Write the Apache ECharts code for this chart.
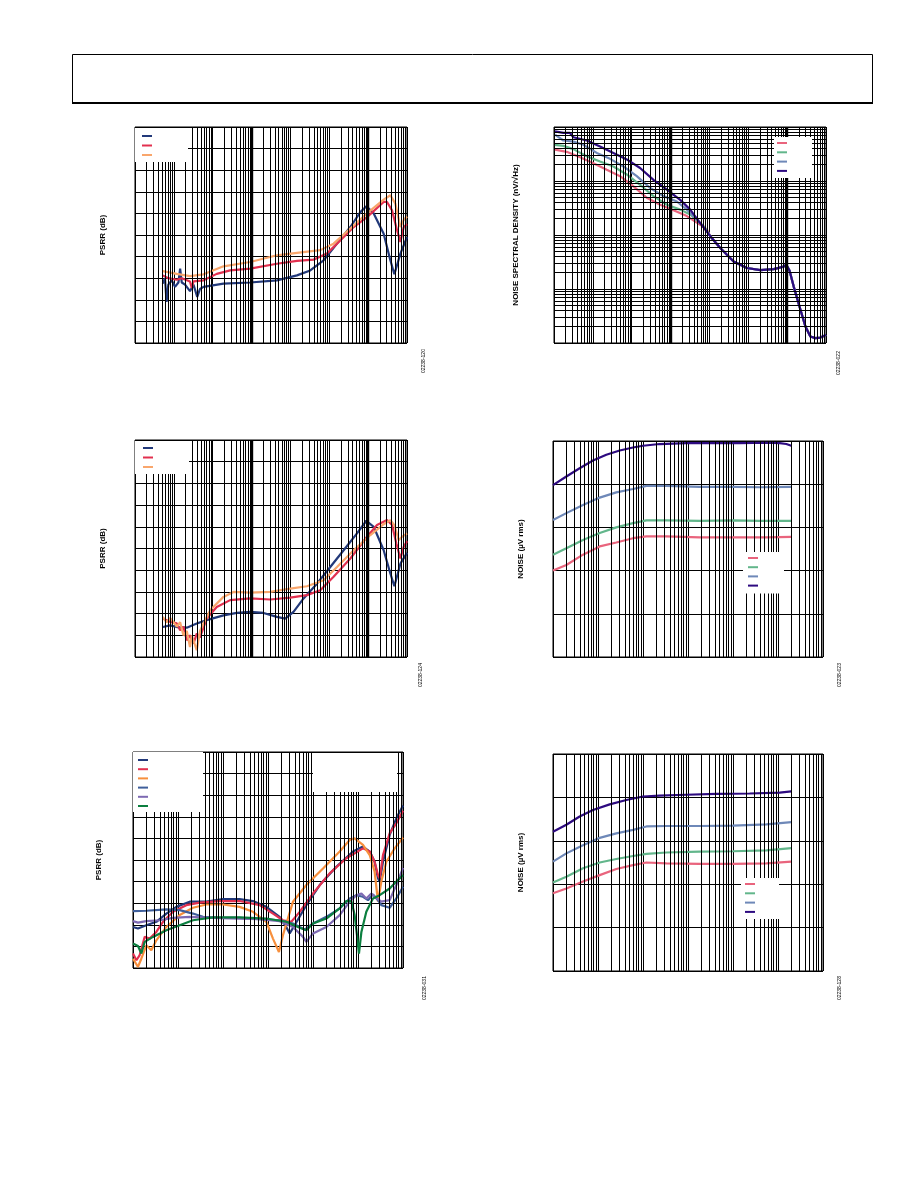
<!DOCTYPE html>
<html>
<head>
<meta charset="utf-8">
<script src="https://cdn.jsdelivr.net/npm/echarts@6/dist/echarts.min.js"></script>
<style>
  html, body { margin: 0; padding: 0; background: #fff; }
  #chart { width: 918px; height: 1188px; }
</style>
</head>
<body>
<div id="chart"></div>
<script>
// ---- PSRR, top left (Hz, dB) ----
const psrrA_navy = [[5.2,-72.5],[5.9,-70],[6.5,-81],[7.2,-73],[8.8,-71],[10.7,-74],[13.1,-72],[14.5,-65.6],[16,-72],[19.4,-73],[26,-76],[32,-73],[40,-78.7],[47,-75],[58,-74],[189,-72.5],[920,-72],[4480,-71],[14700,-68.7],[32400,-66.4],[71400,-61.7],[158000,-54],[348000,-46.3],[630000,-39.4],[899000,-36.7],[1.39e6,-40],[2.51e6,-49.4],[3.73e6,-61.7],[4.73e6,-68.2],[6.76e6,-58.6],[1e7,-51]]
const psrrA_red = [[5.2,-68.7],[7.2,-70],[11.9,-70.7],[16,-70],[26,-71.5],[29,-74.5],[32,-71.5],[58,-71],[127,-68],[281,-66.4],[920,-65.6],[4480,-63.3],[14700,-62],[39500,-61.4],[87100,-58.6],[192000,-52.5],[424000,-46.3],[935000,-41.7],[2.51e6,-34.7],[3.06e6,-34.7],[4.12e6,-38.6],[5.55e6,-47.8],[6.76e6,-53.2],[8.24e6,-46.3],[1e7,-45]]
const psrrA_orange = [[5.2,-66.7],[11.9,-68],[26,-69],[58,-68.2],[189,-64.5],[920,-62.5],[4480,-59.4],[14700,-58.3],[58600,-57],[129000,-54],[348000,-47],[935000,-40],[2.51e6,-33.6],[3.73e6,-31.6],[5.02e6,-35.5],[6.76e6,-46.3],[8.24e6,-43],[1e7,-41.4]]

// ---- PSRR, middle left ----
const psrrB_navy = [[5.2,-86.2],[8.0,-85.4],[11.9,-86.2],[21.5,-86.5],[38.8,-84.6],[70,-83],[189,-80.8],[417,-79.7],[920,-79.2],[2030,-79.7],[4480,-81.5],[7350,-82.3],[12000,-79.2],[21800,-73],[48100,-66.2],[106000,-58.5],[234000,-50.8],[516000,-43],[899000,-37.2],[1.39e6,-40],[2.51e6,-50.8],[3.73e6,-61.5],[4.73e6,-67.4],[6.76e6,-57],[1e7,-52]]
const psrrB_red = [[5.2,-82.3],[8.0,-83.8],[11.9,-84.5],[14.5,-87.7],[17.6,-86],[21.5,-92.3],[26,-90],[32,-93.8],[38.8,-89.2],[47,-91],[70,-82.3],[127,-77],[281,-73.8],[920,-73],[3010,-73.5],[9890,-72.6],[26600,-71.5],[58600,-69.2],[129000,-63],[348000,-54.6],[935000,-44.6],[1.69e6,-39.2],[3.06e6,-36.9],[4.12e6,-39.2],[5.33e6,-47.7],[6.76e6,-54.6],[8.24e6,-49.2],[1e7,-46.6]]
const psrrB_orange = [[5.2,-81.5],[6.5,-84],[8.0,-82],[9.7,-83.8],[11.9,-86],[14.5,-84],[17.6,-90],[21.5,-88],[26,-95.4],[29,-90],[38.8,-96.9],[47,-88],[58,-84.6],[86,-78.5],[189,-72.3],[342,-70],[920,-70.3],[3010,-70],[9890,-68.5],[26600,-67.4],[71400,-64.6],[158000,-58.5],[424000,-50.8],[1.14e6,-43.8],[2.51e6,-38.8],[3.73e6,-36.9],[4.73e6,-39.2],[6.12e6,-46.2],[7.46e6,-44.6],[1e7,-43]]

// ---- PSRR, bottom left ----
const psrrC_navy = [[10,-81],[12.9,-81.7],[19.8,-80.2],[33,-78.6],[55.1,-74.8],[91.8,-71.7],[182,-69.3],[426,-69.3],[1000,-68.1],[2340,-68.1],[4640,-69],[9180,-71.7],[18100,-76.3],[25500,-81],[30300,-84],[39100,-80.2],[71100,-70.9],[141000,-61.6],[330000,-53.1],[774000,-46.1],[1.29e6,-43.8],[1.82e6,-46.1],[2.34e6,-50.8],[2.78e6,-58.5],[3.03e6,-60],[3.59e6,-50.8],[5.06e6,-38.4],[7.11e6,-30.7],[1e7,-24.8]]
const psrrC_red = [[10,-93.3],[11.9,-96.4],[14.1,-94],[18.2,-85.6],[23.4,-86.4],[33,-83.3],[46.4,-78.6],[77.4,-74],[153,-70.9],[303,-69.7],[843,-69],[2340,-69],[6530,-70.9],[12900,-74.8],[21500,-77.9],[33000,-78.6],[50600,-74],[100000,-65.5],[234000,-56.2],[551000,-49.2],[1.29e6,-44.6],[1.82e6,-46.1],[2.34e6,-50.8],[2.78e6,-57],[3.03e6,-58.5],[3.59e6,-47.7],[5.06e6,-37.6],[7.11e6,-33],[1e7,-27.2]]
const psrrC_orange = [[10,-95.7],[12.9,-99.5],[15.3,-95.7],[19.8,-89.5],[25.5,-91.8],[33,-87.2],[55.1,-81],[109,-75.5],[215,-72.1],[426,-70.6],[1000,-70.6],[2340,-71.7],[4640,-74],[9180,-78.6],[12900,-86.4],[17500,-92.6],[21500,-84.8],[35900,-69.3],[71100,-61.6],[167000,-53.9],[392000,-46.1],[653000,-40.7],[843000,-40],[1.29e6,-43],[1.82e6,-47.7],[2.34e6,-55.4],[2.78e6,-69.3],[3.3e6,-60],[4.26e6,-50.8],[6.53e6,-44.6],[1e7,-39.6]]
const psrrC_steel = [[10,-73.7],[19.8,-73.5],[55.1,-72.9],[109,-73.2],[215,-74.8],[359,-76.3],[843,-76.8],[2340,-76.8],[6530,-77.4],[18100,-77.9],[35900,-79.4],[65300,-82.2],[100000,-79.4],[198000,-76.3],[392000,-72.4],[653000,-67.8],[918000,-66.3],[1.29e6,-67],[1.67e6,-68.6],[2.15e6,-65.9],[2.78e6,-68.6],[3.3e6,-70.9],[5.06e6,-72.1],[7.11e6,-67.8],[1e7,-62.4]]
const psrrC_purple = [[10,-78.3],[12.9,-79],[19.8,-78.3],[39.1,-77.9],[77.4,-76.8],[182,-76.3],[600,-76.8],[2340,-77.1],[6530,-77.4],[18100,-78.3],[35900,-81],[60000,-85.6],[71100,-87.9],[100000,-84],[198000,-81],[392000,-75.5],[653000,-69.3],[918000,-66.3],[1.19e6,-65.5],[1.53e6,-67.8],[1.98e6,-65.5],[2.55e6,-67.5],[3.3e6,-69.3],[5.06e6,-68.6],[7.11e6,-61.6],[1e7,-53.6]]
const psrrC_green = [[10,-88.7],[12.9,-89.8],[15.3,-93.3],[18.2,-87.9],[27.8,-85.6],[55.1,-82.5],[109,-80.2],[215,-77.9],[600,-76.6],[2340,-76.6],[9180,-77.1],[25500,-78.6],[50600,-81.4],[71100,-82.5],[100000,-79.4],[198000,-77.1],[392000,-72.4],[551000,-69],[711000,-69],[843000,-75.5],[950000,-84.8],[1.05e6,-93.3],[1.19e6,-83.3],[1.53e6,-74],[2.15e6,-67.8],[3.03e6,-66.3],[5.06e6,-63.2],[7.11e6,-60],[1e7,-57]]

// ---- noise spectral density, top right (Hz, nV/√Hz) ----
const nsdTail = [[10500,95],[19000,57.5],[41900,32.4],[92400,24.5],[204000,22.4],[450000,23.4],[815000,26],[950000,28.2],[1.15e6,22],[1.47e6,11.2],[2.19e6,4.17],[2.94e6,2.04],[3.96e6,1.32],[5.33e6,1.23],[7.17e6,1.26],[1e7,1.41]]
const nsd_pink = [[1.06,3800],[2.12,3470],[4.68,2750],[10.3,2140],[22.8,1620],[50.2,1230],[111,794],[244,490],[540,363],[1190,288],[2630,224],[5790,155],[8600,126]]
const nsd_green = [[1.06,4680],[1.74,4470],[3.15,3890],[6.95,2880],[15.3,2290],[33.8,1860],[74.6,1320],[164,851],[363,525],[801,363],[1770,295],[3200,240],[5790,166],[7790,135]]
const nsd_blue = [[1.06,7240],[1.74,5620],[3.15,5370],[5.7,4680],[12.6,3310],[27.7,2570],[61.2,1860],[135,1230],[298,741],[658,525],[1450,417],[2630,295],[4750,191],[7060,145]]
const nsd_purple = [[1.06,8300],[1.74,7760],[2.58,7760],[3.15,6460],[6.95,5620],[15.3,4370],[33.8,3310],[74.6,2510],[164,1740],[363,1050],[801,692],[1770,447],[3200,295],[5790,166]]

// ---- integrated noise, middle right (Hz, µV rms) ----
const noiseA_pink = [[10,10],[19.8,13.5],[46.4,23.4],[109,36.3],[255,44.7],[600,56.2],[1190,61.7],[3300,61.7],[18100,58.9],[100000,58.9],[551000,58.9],[1.98e6,60.3]]
const noiseA_green = [[10,23.4],[19.8,33.1],[46.4,51.3],[109,74.1],[255,100],[600,126],[1190,145],[3300,145],[18100,141],[100000,145],[392000,141],[1.98e6,141]]
const noiseA_blue = [[10,148],[19.8,214],[46.4,331],[109,490],[255,646],[600,776],[1190,912],[3300,912],[18100,871],[100000,871],[392000,851],[1.98e6,871]]
const noiseA_purple = [[10,955],[19.8,1510],[39.1,2340],[77.4,3550],[153,4790],[303,6030],[600,7080],[1000,7760],[2340,8510],[9180,8910],[35900,8910],[141000,8910],[551000,9120],[1.09e6,8910],[1.53e6,8510],[1.98e6,7760]]

// ---- integrated noise, bottom right ----
const noiseB_pink = [[10,6.17],[19.8,7.94],[46.4,11.5],[109,16.2],[255,22.4],[600,27.5],[1190,31.6],[3300,30.2],[18100,29.5],[100000,29.5],[551000,30.2],[1.98e6,33.1]]
const noiseB_green = [[10,11],[19.8,14.8],[46.4,23.4],[109,31.6],[255,38],[600,44.7],[1190,50.1],[3300,53.7],[18100,56.2],[100000,57.5],[551000,60.3],[1.98e6,67.6]]
const noiseB_blue = [[10,33.1],[19.8,51.3],[46.4,79.4],[109,117],[255,148],[600,178],[1190,214],[3300,219],[18100,219],[100000,224],[551000,240],[1.98e6,269]]
const noiseB_purple = [[10,162],[19.8,234],[39.1,363],[77.4,513],[182,692],[426,871],[1000,1050],[2340,1100],[9180,1150],[42600,1200],[234000,1230],[1.09e6,1290],[1.98e6,1380]]

// figure codes (rotated at the lower right of each plot)
const figCodes = ['02238-120', '02238-022', '02238-124', '02238-023', '02238-031', '02238-128']

const C = {
  navy: '#22397a', red: '#e2304f', peach: '#f9a66c',
  orange: '#f78f3c', steel: '#3f5f9b', lilac: '#7d69b2', green: '#0b7f3f',
  pink: '#e9647d', mint: '#62b68b', blue: '#6e88b8', indigo: '#2d0a80'
}
const FONT = 'Liberation Sans, Arial, sans-serif'

// page boxes [left, top, width, height]
const boxes = [
  [135, 127, 272, 216],
  [554, 127, 272, 216],
  [135, 440, 272, 217],
  [553, 441, 270, 216],
  [133, 752, 270, 216],
  [553, 754, 270, 217]
]

function minors(lo, hi) {
  const out = []
  for (let p = lo; p < hi * 0.99; p *= 10) {
    for (let k = 2; k <= 9; k++) out.push(+(p * k).toPrecision(3))
  }
  return out
}

// grid guide lines: log minor lines + heavier decade lines
function guides(i, xs, ys, thick) {
  const d = []
  xs.forEach(v => d.push({ xAxis: v }))
  ys.forEach(v => d.push({ yAxis: v }))
  thick.forEach(v => d.push({ xAxis: v, lineStyle: { width: 2.4 } }))
  return {
    type: 'line', name: 'guide' + i, xAxisIndex: i, yAxisIndex: i, data: [],
    silent: true,
    markLine: {
      silent: true, animation: false, symbol: ['none', 'none'],
      label: { show: false },
      emphasis: { disabled: true },
      lineStyle: { color: '#000', width: 1, type: 'solid', opacity: 1 },
      data: d
    }
  }
}

function curve(i, name, data, color) {
  return {
    type: 'line', name: name, xAxisIndex: i, yAxisIndex: i, data: data,
    showSymbol: false, symbol: 'none', smooth: false, animation: false,
    lineStyle: { color: color, width: 2.2 }, itemStyle: { color: color },
    emphasis: { disabled: true }, z: 3
  }
}

function legend(names, left, top, padding, gap) {
  return {
    data: names, orient: 'vertical', left: left, top: top,
    icon: 'rect', itemWidth: 10, itemHeight: 2, itemGap: gap,
    padding: padding, backgroundColor: '#fff', selectedMode: false,
    formatter: () => '', textStyle: { fontSize: 1 }, z: 10
  }
}

const xAxes = boxes.map((b, i) => {
  const wide = (i === 0 || i === 1 || i === 2)
  return {
    type: 'log', gridIndex: i, logBase: 10,
    min: wide ? 1 : 10, max: 1e7,
    axisLine: { show: false }, axisTick: { show: false }, axisLabel: { show: false },
    splitLine: { show: true, lineStyle: { color: '#000', width: 1 } }
  }
})

const yName = ['PSRR (dB)', 'NOISE SPECTRAL DENSITY (nV/\u221AHz)', 'PSRR (dB)', 'NOISE (\u00B5V rms)', 'PSRR (dB)', 'NOISE (\u00B5V rms)']
const yGap = [28, 34, 28, 28, 30, 28]

const yAxes = boxes.map((b, i) => {
  const base = {
    gridIndex: i, name: yName[i], nameLocation: 'middle', nameGap: yGap[i], nameRotate: 90,
    nameTextStyle: { fontFamily: FONT, fontWeight: 'bold', fontSize: 8, color: '#000' },
    axisLine: { show: false }, axisTick: { show: false }, axisLabel: { show: false },
    splitLine: { show: true, lineStyle: { color: '#000', width: 1 } }
  }
  if (i === 0 || i === 2 || i === 4) return Object.assign(base, { type: 'value', min: -100, max: 0, interval: 10 })
  if (i === 1) return Object.assign(base, { type: 'log', logBase: 10, min: 1, max: 10000 })
  return Object.assign(base, { type: 'log', logBase: 10, min: 0.1, max: 10000 })
})

const grids = boxes.map(b => ({
  left: b[0], top: b[1], width: b[2], height: b[3],
  show: true, borderColor: '#000', borderWidth: 1, backgroundColor: '#fff', containLabel: false
}))

const series = [
  guides(0, minors(1, 1e7), [], [1e3, 1e6]),
  guides(1, minors(1, 1e7), minors(1, 1e4), [1e3, 1e6]),
  guides(2, minors(1, 1e7), [], [1e3, 1e6]),
  guides(3, minors(10, 1e7), [], []),
  guides(4, minors(10, 1e7), [], []),
  guides(5, minors(10, 1e7), [], []),

  curve(0, 'A navy', psrrA_navy, C.navy),
  curve(0, 'A red', psrrA_red, C.red),
  curve(0, 'A peach', psrrA_orange, C.peach),

  curve(1, 'N pink', nsd_pink.concat(nsdTail), C.pink),
  curve(1, 'N green', nsd_green.concat(nsdTail), C.mint),
  curve(1, 'N blue', nsd_blue.concat(nsdTail), C.blue),
  curve(1, 'N indigo', nsd_purple.concat(nsdTail), C.indigo),

  curve(2, 'B navy', psrrB_navy, C.navy),
  curve(2, 'B red', psrrB_red, C.red),
  curve(2, 'B peach', psrrB_orange, C.peach),

  curve(3, 'R pink', noiseA_pink, C.pink),
  curve(3, 'R green', noiseA_green, C.mint),
  curve(3, 'R blue', noiseA_blue, C.blue),
  curve(3, 'R indigo', noiseA_purple, C.indigo),

  curve(4, 'C navy', psrrC_navy, C.navy),
  curve(4, 'C red', psrrC_red, C.red),
  curve(4, 'C orange', psrrC_orange, C.orange),
  curve(4, 'C steel', psrrC_steel, C.steel),
  curve(4, 'C lilac', psrrC_purple, C.lilac),
  curve(4, 'C green', psrrC_green, C.green),

  curve(5, 'S pink', noiseB_pink, C.pink),
  curve(5, 'S green', noiseB_green, C.mint),
  curve(5, 'S blue', noiseB_blue, C.blue),
  curve(5, 'S indigo', noiseB_purple, C.indigo)
]

const legends = [
  legend(['A navy', 'A red', 'A peach'], 135, 128, [7, 36, 6, 7], 7.5),
  legend(['N pink', 'N green', 'N blue', 'N indigo'], 774, 137, [5, 25, 6, 3], 7.3),
  legend(['B navy', 'B red', 'B peach'], 135, 441, [6, 36, 6, 8], 7.5),
  legend(['R pink', 'R green', 'R blue', 'R indigo'], 743, 552, [5, 26, 7, 5], 7.2),
  legend(['C navy', 'C red', 'C orange', 'C steel', 'C lilac', 'C green'], 133, 752, [7, 55, 5, 5], 7.2),
  legend(['S pink', 'S green', 'S blue', 'S indigo'], 741, 878, [5, 24, 6, 4], 7.3)
]

const codePos = [[424, 373], [839, 375], [421, 687], [840, 687], [425, 1000], [840, 1000]]

const graphics = [
  { type: 'rect', shape: { x: 72.5, y: 54.5, width: 800, height: 49 }, style: { fill: 'none', stroke: '#000', lineWidth: 1 }, z: 100 },
  { type: 'line', shape: { x1: 72, y1: 103, x2: 873, y2: 103 }, style: { stroke: '#000', lineWidth: 2 }, z: 100 },
  // blank annotation box, bottom left plot
  { type: 'rect', shape: { x: 313, y: 753, width: 84, height: 39 }, style: { fill: '#fff' }, z: 100 }
].concat(figCodes.map((t, i) => ({
  type: 'text', x: codePos[i][0], y: codePos[i][1], rotation: Math.PI / 2, z: 100,
  style: { text: t, font: '5px ' + FONT, fill: '#000', textAlign: 'left', textVerticalAlign: 'middle' }
})))

const chart = echarts.init(document.getElementById('chart'), null, { renderer: 'canvas' })
chart.setOption({
  backgroundColor: '#fff',
  animation: false,
  grid: grids,
  xAxis: xAxes,
  yAxis: yAxes,
  legend: legends,
  series: series,
  graphic: graphics
})
</script>
</body>
</html>
